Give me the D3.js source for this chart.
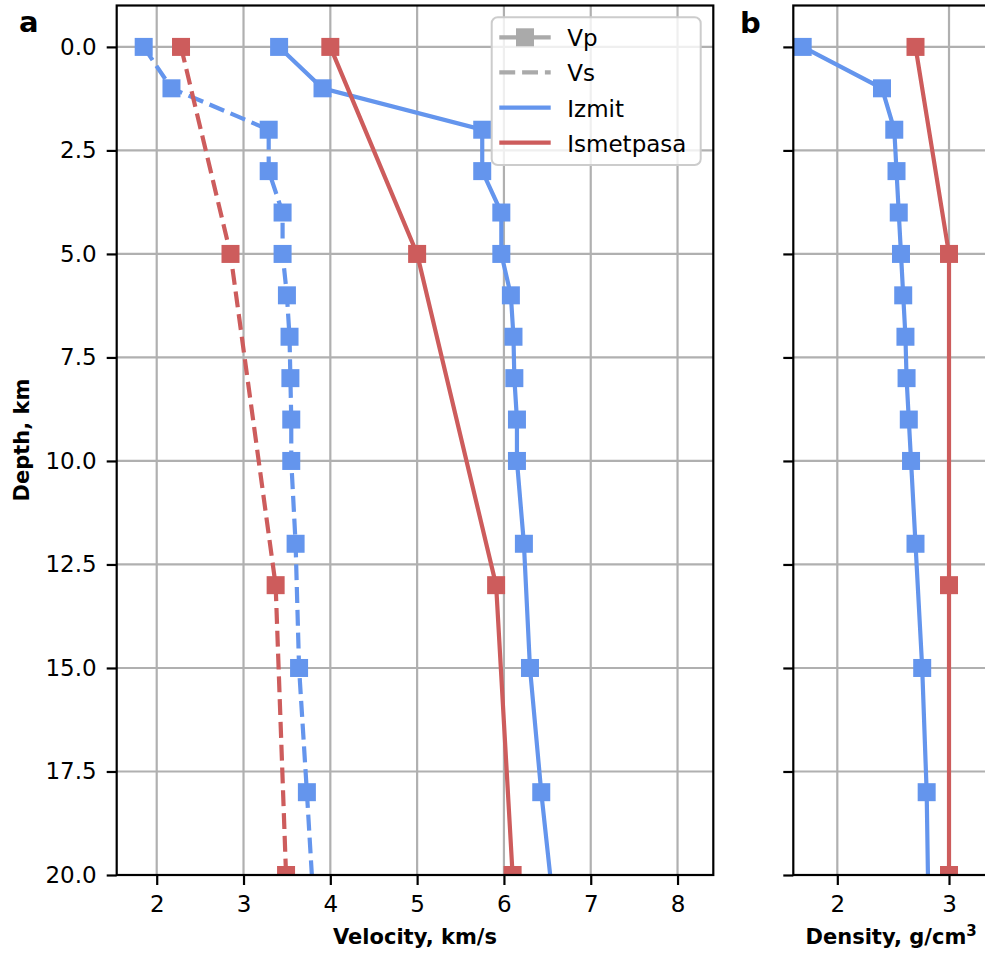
<!DOCTYPE html>
<html>
<head>
<meta charset="utf-8">
<script src="https://cdn.jsdelivr.net/npm/d3@7"></script>
<style>
  body { margin: 0; background: #fff; }
  svg { display: block; font-family: "DejaVu Sans", sans-serif; }
</style>
</head>
<body>
<svg id="chart" width="985" height="961"></svg>
<script>
// ---- data ----
const depthIzmit = [0, 1, 2, 3, 4, 5, 6, 7, 8, 9, 10, 12, 15, 18, 25];
const vpIzmit    = [3.41, 3.91, 5.75, 5.75, 5.97, 5.97, 6.08, 6.11, 6.12, 6.15, 6.15, 6.23, 6.30, 6.43, 6.79];
const vsIzmit    = [1.85, 2.17, 3.29, 3.29, 3.45, 3.45, 3.50, 3.53, 3.54, 3.55, 3.55, 3.60, 3.64, 3.73, 3.93];
const rhoIzmit   = [1.69, 2.40, 2.51, 2.53, 2.55, 2.57, 2.59, 2.61, 2.62, 2.64, 2.66, 2.70, 2.76, 2.80, 2.84];

const depthIsmet = [0, 5, 13, 20];
const vpIsmet    = [4.0, 5.0, 5.91, 6.10];
const vsIsmet    = [2.28, 2.85, 3.37, 3.49];
const rhoIsmet   = [2.70, 3.0, 3.0, 3.0];

const depthTicks = [0, 2.5, 5, 7.5, 10, 12.5, 15, 17.5, 20];
const velTicks = [2, 3, 4, 5, 6, 7, 8];
const rhoTicks = [2, 3];

const legendLabels = ["Vp", "Vs", "Izmit", "Ismetpasa"];

const BLUE = "#6495ed", RED = "#cd5c5c", GRID = "#b0b0b0";
const LW = 4.2, MS = 18;

const svg = d3.select("#chart");

function zip(d, v) { return d.map((dd, i) => ({depth: dd, val: v[i]})); }

function panel(opts) {
  const g = svg.append("g");
  const x = d3.scaleLinear().domain(opts.xdom).range([opts.left, opts.right]);
  const y = d3.scaleLinear().domain([-1, 20]).range([opts.top, opts.bottom]);

  const clipId = "clip-" + opts.name;
  svg.append("clipPath").attr("id", clipId)
    .append("rect")
    .attr("x", opts.left).attr("y", opts.top)
    .attr("width", opts.right - opts.left).attr("height", opts.bottom - opts.top);

  // grid
  const grid = g.append("g");
  grid.selectAll("line.gx").data(opts.xticks).enter().append("line")
    .attr("x1", d => x(d)).attr("x2", d => x(d))
    .attr("y1", opts.top).attr("y2", opts.bottom)
    .attr("stroke", GRID).attr("stroke-width", 2.2);
  grid.selectAll("line.gy").data(depthTicks).enter().append("line")
    .attr("x1", opts.left).attr("x2", opts.right)
    .attr("y1", d => y(d)).attr("y2", d => y(d))
    .attr("stroke", GRID).attr("stroke-width", 2.2);

  const plot = g.append("g").attr("clip-path", "url(#" + clipId + ")");
  const line = d3.line().x(d => x(d.val)).y(d => y(d.depth));

  opts.series.forEach(s => {
    const pts = zip(s.depth, s.values);
    plot.append("path").datum(pts)
      .attr("d", line)
      .attr("fill", "none")
      .attr("stroke", s.color)
      .attr("stroke-width", LW)
      .attr("stroke-dasharray", s.dashed ? "15.9,6.9" : null);
    plot.selectAll(null).data(pts).enter().append("rect")
      .attr("x", d => x(d.val) - MS / 2)
      .attr("y", d => y(d.depth) - MS / 2)
      .attr("width", MS).attr("height", MS)
      .attr("fill", s.color);
  });

  // axes
  const yAxis = d3.axisLeft(y).tickValues(depthTicks).tickSize(10).tickPadding(10)
    .tickFormat(opts.ylabels ? d3.format(".1f") : "");
  const xAxis = d3.axisBottom(x).tickValues(opts.xticks).tickSize(10).tickPadding(11)
    .tickFormat(d3.format("d"));

  const ya = g.append("g").attr("transform", "translate(" + opts.left + ",0)").call(yAxis);
  const xa = g.append("g").attr("transform", "translate(0," + opts.bottom + ")").call(xAxis);
  [ya, xa].forEach(a => {
    a.select(".domain").remove();
    a.selectAll(".tick line").attr("stroke", "#000").attr("stroke-width", 2.2);
    a.selectAll(".tick text").attr("font-size", 23).attr("fill", "#000")
      .attr("font-family", "DejaVu Sans");
  });

  // spines
  g.append("rect")
    .attr("x", opts.left).attr("y", opts.top)
    .attr("width", opts.right - opts.left).attr("height", opts.bottom - opts.top)
    .attr("fill", "none").attr("stroke", "#000").attr("stroke-width", 2.2);

  return {g, x, y};
}

const pa = panel({
  name: "a", left: 116.7, right: 713.3, top: 5.5, bottom: 875,
  xdom: [1.539, 8.412], xticks: velTicks, ylabels: true,
  series: [
    {depth: depthIzmit, values: vpIzmit, color: BLUE, dashed: false},
    {depth: depthIzmit, values: vsIzmit, color: BLUE, dashed: true},
    {depth: depthIsmet, values: vpIsmet, color: RED, dashed: false},
    {depth: depthIsmet, values: vsIsmet, color: RED, dashed: true}
  ]
});

const pb = panel({
  name: "b", left: 793.3, right: 989, top: 5.5, bottom: 875,
  xdom: [1.606, 3.358], xticks: rhoTicks, ylabels: false,
  series: [
    {depth: depthIzmit, values: rhoIzmit, color: BLUE, dashed: false},
    {depth: depthIsmet, values: rhoIsmet, color: RED, dashed: false}
  ]
});

// axis labels
svg.append("text")
  .attr("x", (116.7 + 713.3) / 2).attr("y", 944)
  .attr("text-anchor", "middle").attr("font-size", 21).attr("font-weight", "bold")
  .text("Velocity, km/s");

const dl = svg.append("text")
  .attr("x", (793.3 + 989) / 2).attr("y", 944)
  .attr("text-anchor", "middle").attr("font-size", 21).attr("font-weight", "bold");
dl.append("tspan").text("Density, g/cm");
dl.append("tspan").attr("font-size", 15).attr("dy", -8).text("3");

svg.append("text")
  .attr("transform", "translate(29,440) rotate(-90)")
  .attr("text-anchor", "middle").attr("font-size", 21).attr("font-weight", "bold")
  .text("Depth, km");

// panel letters
svg.append("text").attr("x", 19).attr("y", 32)
  .attr("font-size", 29).attr("font-weight", "bold").text("a");
svg.append("text").attr("x", 740).attr("y", 33)
  .attr("font-size", 29).attr("font-weight", "bold").text("b");

// legend
const lg = svg.append("g");
lg.append("rect")
  .attr("x", 491.7).attr("y", 17.3).attr("width", 209).attr("height", 147.7)
  .attr("rx", 6).attr("fill", "#fff").attr("fill-opacity", 0.8)
  .attr("stroke", "#cccccc").attr("stroke-width", 2);

const legendStyle = [
  {color: "#aaaaaa", dashed: false, marker: true},
  {color: "#aaaaaa", dashed: true, marker: false},
  {color: BLUE, dashed: false, marker: false},
  {color: RED, dashed: false, marker: false}
];
const rowY = d3.scalePoint().domain(legendLabels).range([37.3, 142.7]);
legendLabels.forEach((lab, i) => {
  const st = legendStyle[i];
  const cy = rowY(lab);
  lg.append("line")
    .attr("x1", 499.3).attr("x2", 550.7).attr("y1", cy).attr("y2", cy)
    .attr("stroke", st.color).attr("stroke-width", LW)
    .attr("stroke-dasharray", st.dashed ? "15.9,6.9" : null);
  if (st.marker) {
    lg.append("rect")
      .attr("x", 525 - MS / 2).attr("y", cy - MS / 2)
      .attr("width", MS).attr("height", MS).attr("fill", st.color);
  }
  lg.append("text")
    .attr("x", 567.3).attr("y", cy + 9)
    .attr("font-size", 23).text(lab);
});
</script>
</body>
</html>
